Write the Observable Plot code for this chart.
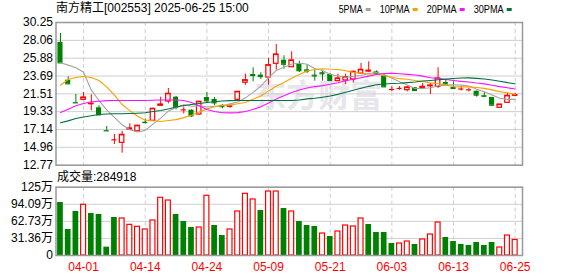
<!DOCTYPE html>
<html><head><meta charset="utf-8">
<script src="https://cdn.jsdelivr.net/npm/d3@7"></script>
<script src="https://cdn.jsdelivr.net/npm/@observablehq/plot@0.6"></script>
<style>
body{margin:0;background:#fff;}
#wrap{position:relative;width:578px;height:276px;overflow:hidden;font-family:'Liberation Sans','Noto Sans CJK SC',sans-serif;color:#000;}
#title{position:absolute;left:56px;top:1px;font-size:12px;line-height:14px;white-space:nowrap;}
#vlabel{position:absolute;left:57px;top:170px;font-size:12px;line-height:14px;white-space:nowrap;}
#legend{position:absolute;left:0;top:0;}
.pl{position:absolute;left:0;}
</style></head><body>
<div id="wrap">
  <div id="title"></div>
  <svg id="legend" width="578" height="18"></svg>
  <div class="pl" id="price" style="top:0"></div>
  <div id="vlabel"></div>
  <div class="pl" id="vol" style="top:170px"></div>
</div>
<script>
const stockName = "南方精工[002553] 2025-06-25 15:00";
const volLabel = "成交量:284918";
const dates = ["03-27","03-28","03-31","04-01","04-02","04-03","04-07","04-08","04-09","04-10","04-11","04-14","04-15","04-16","04-17","04-18","04-21","04-22","04-23","04-24","04-25","04-28","04-29","04-30","05-06","05-07","05-08","05-09","05-12","05-13","05-14","05-15","05-16","05-19","05-20","05-21","05-22","05-23","05-26","05-27","05-28","05-29","05-30","06-03","06-04","06-05","06-06","06-09","06-10","06-11","06-12","06-13","06-16","06-17","06-18","06-19","06-20","06-23","06-24","06-25"];
const openP  = [27.80,23.18,20.45,20.78,20.28,19.80,17.00,15.88,15.51,17.14,16.93,18.02,18.21,20.05,20.57,21.10,19.55,19.51,18.98,21.06,20.82,20.10,19.96,20.78,22.87,23.88,23.80,23.51,25.19,25.63,24.77,25.14,24.45,23.80,24.10,23.88,23.06,23.15,23.27,24.00,24.25,24.20,23.72,22.04,22.17,21.96,22.25,22.20,22.45,22.37,22.90,22.29,22.10,22.00,21.83,21.30,21.06,19.80,20.41,21.30];
const highP  = [28.90,23.60,21.43,21.67,21.40,20.05,17.51,16.53,16.93,17.84,17.67,18.45,19.75,21.10,22.17,21.20,19.90,19.55,20.60,21.67,21.06,20.20,20.20,21.80,23.92,24.70,24.09,25.84,27.55,26.17,26.66,25.51,25.02,24.41,24.41,23.97,23.92,23.92,24.28,25.23,25.43,24.33,23.80,22.37,22.40,22.45,22.30,22.78,22.78,24.70,23.18,22.98,22.40,22.20,21.85,21.67,21.06,20.20,21.55,21.55];
const lowP   = [25.31,22.74,20.41,20.70,19.43,18.94,16.98,15.30,14.24,17.10,16.93,17.84,18.21,20.05,20.29,19.55,19.04,18.61,18.90,20.45,20.05,19.68,19.75,20.70,22.57,22.99,23.27,22.57,24.41,24.53,24.77,24.13,24.00,23.06,23.06,23.10,23.06,22.65,22.86,23.88,24.10,23.97,22.30,21.76,21.95,21.76,21.90,22.16,21.43,22.17,22.65,22.17,21.85,21.75,21.10,21.06,20.12,19.80,20.41,21.15];
const closeP = [25.31,22.74,20.41,21.06,20.30,18.94,16.98,15.88,16.49,17.27,17.60,18.00,19.68,20.20,21.52,19.87,19.55,18.82,20.54,20.66,20.41,19.95,19.98,21.76,23.18,23.76,23.63,25.02,26.33,25.14,25.60,24.35,24.30,23.70,23.97,23.15,23.39,23.55,24.21,24.45,24.35,24.03,22.37,22.04,22.17,22.29,21.92,22.37,22.53,23.39,22.70,22.17,22.10,22.00,21.35,21.22,20.12,20.20,21.27,21.35];
// volume in 万
const volume = [97.3,47.8,80.8,93.1,77.1,75.3,15.3,69.8,68.0,56.3,52.7,47.8,64.3,106.0,101.0,75.3,62.4,51.4,51.4,109.6,55.1,36.7,47.8,80.8,113.3,102.9,82.6,117.5,117.5,86.3,80.8,62.4,55.1,53.3,40.4,34.9,44.1,55.1,53.3,68.0,56.9,42.2,42.2,22.0,22.0,25.7,20.2,29.4,38.6,60.6,33.1,25.7,20.2,18.4,23.9,18.4,23.9,14.7,36.7,28.49];
const volRise = [0,0,0,1,0,0,0,0,1,1,1,1,1,1,1,0,0,0,1,1,0,0,1,1,1,1,0,1,1,0,1,0,0,0,1,0,1,1,1,1,0,0,0,0,1,1,0,1,1,1,0,0,0,0,0,0,0,1,1,1];
const ma5  = [25.31,25.03,24.70,24.15,21.96,20.69,19.54,18.63,17.72,17.11,16.84,17.04,17.80,18.54,19.39,19.85,20.16,19.99,20.06,19.89,20.00,20.06,20.28,20.52,21.02,21.69,22.45,23.47,24.38,24.78,25.14,25.29,25.14,24.62,24.38,23.89,23.70,23.55,23.65,23.75,23.99,24.12,23.88,23.45,22.99,22.58,22.16,22.16,22.26,22.50,22.58,22.63,22.58,22.47,22.06,21.77,21.36,20.98,20.83,20.83];
const ma10 = [22.57,23.27,23.51,23.64,23.51,23.15,22.37,21.35,20.20,19.45,18.77,18.29,18.22,18.13,18.25,18.35,18.60,18.90,19.30,19.64,19.92,20.11,20.13,20.29,20.46,20.85,21.25,21.87,22.45,22.90,23.42,23.87,24.31,24.50,24.58,24.52,24.50,24.35,24.14,24.07,23.94,23.91,23.72,23.55,23.37,23.29,23.14,23.02,22.85,22.75,22.58,22.40,22.37,22.36,22.28,22.18,22.00,21.78,21.65,21.45];
const ma20 = [19.23,19.63,20.05,20.33,20.54,20.61,20.68,20.70,20.70,20.70,20.70,20.70,20.72,20.75,20.76,20.76,20.70,20.45,20.05,19.59,19.34,19.20,19.18,19.21,19.35,19.60,19.93,20.38,20.88,21.27,21.67,21.99,22.22,22.40,22.52,22.68,22.87,23.11,23.29,23.48,23.68,23.89,24.01,24.03,23.98,23.90,23.82,23.68,23.49,23.41,23.26,23.15,23.04,22.96,22.83,22.73,22.57,22.40,22.25,22.10];
const ma30 = [17.96,18.20,18.49,18.68,18.82,18.98,19.05,19.07,19.08,19.10,19.14,19.19,19.35,19.47,19.65,19.90,20.08,20.20,20.33,20.45,20.54,20.63,20.68,20.70,20.70,20.70,20.70,20.70,20.70,20.69,20.70,20.76,20.89,20.97,21.10,21.24,21.45,21.71,21.96,22.20,22.43,22.63,22.72,22.78,22.80,22.88,22.96,23.08,23.15,23.24,23.31,23.39,23.46,23.47,23.41,23.33,23.21,23.05,22.88,22.75];
const priceTicks = [12.77,14.96,17.14,19.33,21.51,23.69,25.88,28.06,30.25];
const volTicks = [0,31.36,62.73,94.09,125.45];
const volTickLabels = ["0","31.36万","62.73万","94.09万","125万"];
const dateTicks = ["04-01","04-14","04-24","05-09","05-21","06-03","06-13","06-25"];
const maNames = ["5PMA","10PMA","20PMA","30PMA"];
const maColors = ["#a3a3a3","#f5a300","#ff10ff","#00703c"];
const watermark = "东方财富";

const RED = "#ff0000", GREEN = "#008000";
const bars = dates.map((d, i) => ({i, date: d, open: openP[i], high: highP[i], low: lowP[i], close: closeP[i], vol: volume[i], rise: volRise[i]}));
const up = bars.filter(b => b.close >= b.open);
const down = bars.filter(b => b.close < b.open);
const tickIdx = dateTicks.map(d => dates.indexOf(d));
const mas = [ma5, ma10, ma20, ma30];
const xDomain = [-0.58, 59.95];
const font = "'Liberation Sans','Noto Sans CJK SC',sans-serif";

document.getElementById("title").textContent = stockName;
document.getElementById("vlabel").textContent = volLabel;

// legend
const lg = d3.select("#legend");
let cx = 338.7;
maNames.forEach((n, k) => {
  const w = n.length * 6;
  lg.append("text").attr("x", cx).attr("y", 12.8).attr("textLength", w).attr("lengthAdjust", "spacingAndGlyphs")
    .attr("font-family", font).attr("font-size", 11.5).attr("fill", "#000").text(n);
  lg.append("rect").attr("x", cx + w + 3).attr("y", 8).attr("width", 5).attr("height", 3).attr("fill", maColors[k]);
  cx += w + 3 + 5 + 9;
});

const priceChart = Plot.plot({
  width: 578, height: 170,
  marginLeft: 55.5, marginRight: 56, marginTop: 22, marginBottom: 5.3,
  x: {domain: xDomain, axis: null, label: null},
  y: {domain: [priceTicks[0], priceTicks[priceTicks.length - 1]], axis: null, label: null},
  style: {fontFamily: font, fontSize: "12px", background: "transparent", overflow: "visible", color: "#000"},
  marks: [
    Plot.text([watermark], {text: d => d, frameAnchor: "middle", dx: 29, dy: 3, fontSize: 32, fontWeight: "bold", fill: "#e6e6ec"}),
    Plot.gridY(priceTicks, {stroke: "#cfcfcf", strokeOpacity: 1}),
    Plot.gridX(tickIdx, {stroke: "#cfcfcf", strokeOpacity: 1, strokeDasharray: "4,3"}),
    Plot.axisY(priceTicks, {tickSize: 0, tickPadding: 3, tickFormat: d => d.toFixed(2), fontSize: 12, label: null}),
    Plot.ruleX(up, {x: "i", y1: "low", y2: "high", stroke: RED, strokeWidth: 1}),
    Plot.ruleX(down, {x: "i", y1: "low", y2: "high", stroke: GREEN, strokeWidth: 1}),
    Plot.rect(up, {x1: d => d.i - 0.29, x2: d => d.i + 0.29, y1: "open", y2: "close", fill: "#fff", stroke: RED, strokeWidth: 1.2}),
    Plot.rect(down, {x1: d => d.i - 0.33, x2: d => d.i + 0.33, y1: "open", y2: "close", fill: GREEN}),
    Plot.ruleY(up, {y: "close", x1: d => d.i - 0.33, x2: d => d.i + 0.33, stroke: RED, strokeWidth: 1.2}),
    Plot.ruleY(down, {y: "close", x1: d => d.i - 0.33, x2: d => d.i + 0.33, stroke: GREEN, strokeWidth: 1.2}),
    ...mas.map((m, k) => Plot.line(m.map((v, i) => ({i, v})), {x: "i", y: "v", stroke: maColors[k], strokeWidth: 1.1})),
    Plot.frame({stroke: "#999", strokeWidth: 1.5})
  ]
});
document.getElementById("price").appendChild(priceChart);

const volChart = Plot.plot({
  width: 578, height: 106,
  marginLeft: 55.5, marginRight: 56, marginTop: 16.7, marginBottom: 21,
  x: {domain: xDomain, axis: null, label: null},
  y: {domain: [0, volTicks[volTicks.length - 1]], axis: null, label: null},
  style: {fontFamily: font, fontSize: "12px", background: "transparent", overflow: "visible", color: "#000"},
  marks: [
    Plot.gridY(volTicks, {stroke: "#cfcfcf", strokeOpacity: 1}),
    Plot.gridX(tickIdx, {stroke: "#cfcfcf", strokeOpacity: 1, strokeDasharray: "4,3"}),
    Plot.axisY(volTicks, {tickSize: 0, tickPadding: 3, tickFormat: d => volTickLabels[volTicks.indexOf(d)], fontSize: 12, label: null}),
    Plot.axisX(tickIdx, {tickSize: 0, tickPadding: 7, tickFormat: i => dates[i], fill: RED, fontSize: 12, label: null}),
    Plot.rect(bars.filter(b => b.rise), {x1: d => d.i - 0.32, x2: d => d.i + 0.32, y1: 0, y2: "vol", fill: "#fff", stroke: RED, strokeWidth: 1.2}),
    Plot.rect(bars.filter(b => !b.rise), {x1: d => d.i - 0.37, x2: d => d.i + 0.37, y1: 0, y2: "vol", fill: GREEN}),
    Plot.frame({stroke: "#999", strokeWidth: 1.5})
  ]
});
document.getElementById("vol").appendChild(volChart);
</script>
</body></html>
